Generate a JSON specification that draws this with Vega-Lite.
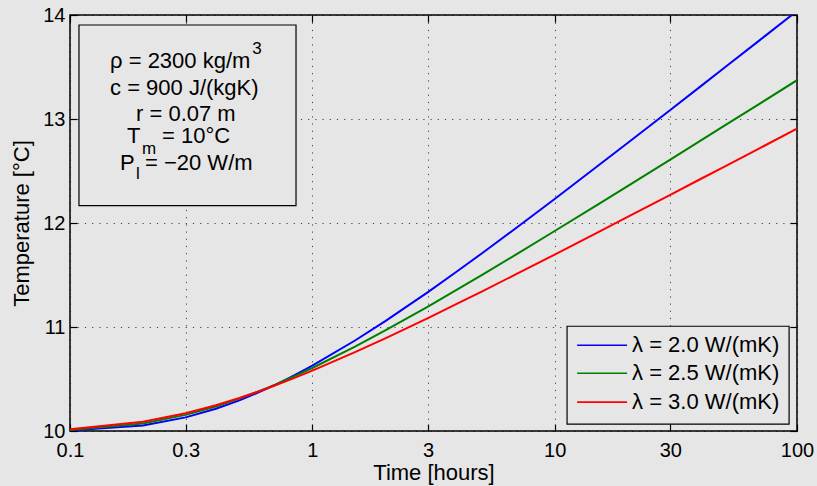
{
  "$schema": "https://vega.github.io/schema/vega-lite/v6.json",
  "width": 727,
  "height": 416,
  "autosize": "none",
  "padding": {"left": 70, "top": 15, "right": 20, "bottom": 55},
  "background": "#e6e6e6",
  "config": {
    "view": {"stroke": "black", "strokeWidth": 1.5, "fill": "#e6e6e6"},
    "font": "Liberation Sans",
    "axis": {
      "domain": false,
      "tickColor": "black",
      "tickSize": -7,
      "tickWidth": 1.2,
      "labelFont": "Liberation Sans",
      "labelFontSize": 20,
      "labelColor": "black",
      "labelOverlap": false,
      "labelFlush": false,
      "titleFont": "Liberation Sans",
      "titleFontSize": 22,
      "titleFontWeight": "normal",
      "titleColor": "black",
      "gridColor": "black",
      "gridDash": [1.2, 6],
      "gridWidth": 1,
      "gridOpacity": 0.7
    }
  },
  "datasets": {
    "curves": [
      {"t": 0.1, "T": 10.005, "k": "λ = 2.0 W/(mK)"},
      {"t": 0.2, "T": 10.054, "k": "λ = 2.0 W/(mK)"},
      {"t": 0.3, "T": 10.131, "k": "λ = 2.0 W/(mK)"},
      {"t": 0.4, "T": 10.214, "k": "λ = 2.0 W/(mK)"},
      {"t": 0.5, "T": 10.295, "k": "λ = 2.0 W/(mK)"},
      {"t": 0.6, "T": 10.371, "k": "λ = 2.0 W/(mK)"},
      {"t": 0.7, "T": 10.442, "k": "λ = 2.0 W/(mK)"},
      {"t": 0.8, "T": 10.509, "k": "λ = 2.0 W/(mK)"},
      {"t": 0.9, "T": 10.571, "k": "λ = 2.0 W/(mK)"},
      {"t": 1, "T": 10.629, "k": "λ = 2.0 W/(mK)"},
      {"t": 1.5, "T": 10.87, "k": "λ = 2.0 W/(mK)"},
      {"t": 2, "T": 11.057, "k": "λ = 2.0 W/(mK)"},
      {"t": 3, "T": 11.336, "k": "λ = 2.0 W/(mK)"},
      {"t": 4, "T": 11.543, "k": "λ = 2.0 W/(mK)"},
      {"t": 5, "T": 11.707, "k": "λ = 2.0 W/(mK)"},
      {"t": 7, "T": 11.959, "k": "λ = 2.0 W/(mK)"},
      {"t": 10, "T": 12.231, "k": "λ = 2.0 W/(mK)"},
      {"t": 15, "T": 12.545, "k": "λ = 2.0 W/(mK)"},
      {"t": 20, "T": 12.769, "k": "λ = 2.0 W/(mK)"},
      {"t": 30, "T": 13.087, "k": "λ = 2.0 W/(mK)"},
      {"t": 40, "T": 13.314, "k": "λ = 2.0 W/(mK)"},
      {"t": 50, "T": 13.49, "k": "λ = 2.0 W/(mK)"},
      {"t": 70, "T": 13.756, "k": "λ = 2.0 W/(mK)"},
      {"t": 100, "T": 14.039, "k": "λ = 2.0 W/(mK)"},
      {"t": 0.1, "T": 10.01, "k": "λ = 2.5 W/(mK)"},
      {"t": 0.2, "T": 10.073, "k": "λ = 2.5 W/(mK)"},
      {"t": 0.3, "T": 10.155, "k": "λ = 2.5 W/(mK)"},
      {"t": 0.4, "T": 10.236, "k": "λ = 2.5 W/(mK)"},
      {"t": 0.5, "T": 10.312, "k": "λ = 2.5 W/(mK)"},
      {"t": 0.6, "T": 10.381, "k": "λ = 2.5 W/(mK)"},
      {"t": 0.7, "T": 10.444, "k": "λ = 2.5 W/(mK)"},
      {"t": 0.8, "T": 10.503, "k": "λ = 2.5 W/(mK)"},
      {"t": 0.9, "T": 10.557, "k": "λ = 2.5 W/(mK)"},
      {"t": 1, "T": 10.606, "k": "λ = 2.5 W/(mK)"},
      {"t": 1.5, "T": 10.811, "k": "λ = 2.5 W/(mK)"},
      {"t": 2, "T": 10.967, "k": "λ = 2.5 W/(mK)"},
      {"t": 3, "T": 11.197, "k": "λ = 2.5 W/(mK)"},
      {"t": 4, "T": 11.366, "k": "λ = 2.5 W/(mK)"},
      {"t": 5, "T": 11.499, "k": "λ = 2.5 W/(mK)"},
      {"t": 7, "T": 11.703, "k": "λ = 2.5 W/(mK)"},
      {"t": 10, "T": 11.923, "k": "λ = 2.5 W/(mK)"},
      {"t": 15, "T": 12.175, "k": "λ = 2.5 W/(mK)"},
      {"t": 20, "T": 12.355, "k": "λ = 2.5 W/(mK)"},
      {"t": 30, "T": 12.61, "k": "λ = 2.5 W/(mK)"},
      {"t": 40, "T": 12.792, "k": "λ = 2.5 W/(mK)"},
      {"t": 50, "T": 12.933, "k": "λ = 2.5 W/(mK)"},
      {"t": 70, "T": 13.146, "k": "λ = 2.5 W/(mK)"},
      {"t": 100, "T": 13.373, "k": "λ = 2.5 W/(mK)"},
      {"t": 0.1, "T": 10.016, "k": "λ = 3.0 W/(mK)"},
      {"t": 0.2, "T": 10.088, "k": "λ = 3.0 W/(mK)"},
      {"t": 0.3, "T": 10.17, "k": "λ = 3.0 W/(mK)"},
      {"t": 0.4, "T": 10.247, "k": "λ = 3.0 W/(mK)"},
      {"t": 0.5, "T": 10.317, "k": "λ = 3.0 W/(mK)"},
      {"t": 0.6, "T": 10.38, "k": "λ = 3.0 W/(mK)"},
      {"t": 0.7, "T": 10.437, "k": "λ = 3.0 W/(mK)"},
      {"t": 0.8, "T": 10.489, "k": "λ = 3.0 W/(mK)"},
      {"t": 0.9, "T": 10.537, "k": "λ = 3.0 W/(mK)"},
      {"t": 1, "T": 10.58, "k": "λ = 3.0 W/(mK)"},
      {"t": 1.5, "T": 10.758, "k": "λ = 3.0 W/(mK)"},
      {"t": 2, "T": 10.891, "k": "λ = 3.0 W/(mK)"},
      {"t": 3, "T": 11.086, "k": "λ = 3.0 W/(mK)"},
      {"t": 4, "T": 11.229, "k": "λ = 3.0 W/(mK)"},
      {"t": 5, "T": 11.341, "k": "λ = 3.0 W/(mK)"},
      {"t": 7, "T": 11.513, "k": "λ = 3.0 W/(mK)"},
      {"t": 10, "T": 11.696, "k": "λ = 3.0 W/(mK)"},
      {"t": 15, "T": 11.907, "k": "λ = 3.0 W/(mK)"},
      {"t": 20, "T": 12.058, "k": "λ = 3.0 W/(mK)"},
      {"t": 30, "T": 12.271, "k": "λ = 3.0 W/(mK)"},
      {"t": 40, "T": 12.423, "k": "λ = 3.0 W/(mK)"},
      {"t": 50, "T": 12.54, "k": "λ = 3.0 W/(mK)"},
      {"t": 70, "T": 12.718, "k": "λ = 3.0 W/(mK)"},
      {"t": 100, "T": 12.907, "k": "λ = 3.0 W/(mK)"}
    ],
    "infobox": [{"x1": 0.1089, "x2": 0.8564, "y1": 13.904, "y2": 12.168}],
    "legendbox": [{"x1": 11.25, "x2": 92.76, "y1": 11.007, "y2": 10.067}],
    "maintext": [
      {"x": 0.1463, "y": 13.559, "text": "ρ = 2300 kg/m"},
      {"x": 0.1463, "y": 13.3, "text": "c = 900 J/(kgK)"},
      {"x": 0.1873, "y": 13.05, "text": "r = 0.07 m"},
      {"x": 0.1719, "y": 12.839, "text": "T"},
      {"x": 0.2398, "y": 12.839, "text": "= 10°C"},
      {"x": 0.1608, "y": 12.58, "text": "P"},
      {"x": 0.2039, "y": 12.58, "text": "= −20 W/m"}
    ],
    "smalltext": [
      {"x": 0.565, "y": 13.67, "text": "3"},
      {"x": 0.1983, "y": 12.71, "text": "m"},
      {"x": 0.1873, "y": 12.47, "text": "l"}
    ],
    "legendrows": [
      {"x1": 12.38, "x2": 19.9, "xt": 20.86, "y": 10.825, "k": "λ = 2.0 W/(mK)"},
      {"x1": 12.38, "x2": 19.9, "xt": 20.86, "y": 10.556, "k": "λ = 2.5 W/(mK)"},
      {"x1": 12.38, "x2": 19.9, "xt": 20.86, "y": 10.278, "k": "λ = 3.0 W/(mK)"}
    ]
  },
  "layer": [
    {
      "data": {"name": "curves"},
      "mark": {"type": "line", "opacity": 0},
      "encoding": {
        "x": {"field": "t", "type": "quantitative", "scale": {"type": "log", "domain": [0.1, 100], "nice": false},
              "axis": {"orient": "top", "labels": false, "grid": false, "title": null, "values": [0.1, 0.3, 1, 3, 10, 30, 100]}},
        "y": {"field": "T", "type": "quantitative", "scale": {"domain": [10, 14], "nice": false, "zero": false},
              "axis": {"orient": "right", "labels": false, "grid": false, "title": null, "values": [10, 11, 12, 13, 14]}},
        "detail": {"field": "k"}
      }
    },
    {
      "data": {"name": "curves"},
      "mark": {"type": "line", "strokeWidth": 2, "clip": true},
      "encoding": {
        "x": {"field": "t", "type": "quantitative", "scale": {"type": "log", "domain": [0.1, 100], "nice": false},
              "axis": {"orient": "bottom", "grid": true, "title": "Time [hours]", "values": [0.1, 0.3, 1, 3, 10, 30, 100], "labelPadding": 16, "titlePadding": 2}},
        "y": {"field": "T", "type": "quantitative", "scale": {"domain": [10, 14], "nice": false, "zero": false},
              "axis": {"orient": "left", "grid": true, "title": "Temperature [°C]", "values": [10, 11, 12, 13, 14], "labelPadding": 12, "titlePadding": 9}},
        "color": {"field": "k", "type": "nominal", "legend": null,
                  "scale": {"domain": ["λ = 2.0 W/(mK)", "λ = 2.5 W/(mK)", "λ = 3.0 W/(mK)"], "range": ["#0000ff", "#008000", "#ff0000"]}}
      }
    },
    {
      "data": {"name": "infobox"},
      "mark": {"type": "rect", "fill": "#e6e6e6", "stroke": "black", "strokeWidth": 1.2},
      "encoding": {
        "x": {"field": "x1", "type": "quantitative", "axis": null},
        "x2": {"field": "x2"},
        "y": {"field": "y1", "type": "quantitative", "axis": null},
        "y2": {"field": "y2"}
      }
    },
    {
      "data": {"name": "maintext"},
      "mark": {"type": "text", "align": "left", "baseline": "middle", "fontSize": 22, "font": "Liberation Sans", "color": "black"},
      "encoding": {
        "x": {"field": "x", "type": "quantitative", "axis": null},
        "y": {"field": "y", "type": "quantitative", "axis": null},
        "text": {"field": "text"}
      }
    },
    {
      "data": {"name": "smalltext"},
      "mark": {"type": "text", "align": "left", "baseline": "middle", "fontSize": 17, "font": "Liberation Sans", "color": "black"},
      "encoding": {
        "x": {"field": "x", "type": "quantitative", "axis": null},
        "y": {"field": "y", "type": "quantitative", "axis": null},
        "text": {"field": "text"}
      }
    },
    {
      "data": {"name": "legendbox"},
      "mark": {"type": "rect", "fill": "#e6e6e6", "stroke": "black", "strokeWidth": 1.2},
      "encoding": {
        "x": {"field": "x1", "type": "quantitative", "axis": null},
        "x2": {"field": "x2"},
        "y": {"field": "y1", "type": "quantitative", "axis": null},
        "y2": {"field": "y2"}
      }
    },
    {
      "data": {"name": "legendrows"},
      "mark": {"type": "rule", "strokeWidth": 1.6},
      "encoding": {
        "x": {"field": "x1", "type": "quantitative", "axis": null},
        "x2": {"field": "x2"},
        "y": {"field": "y", "type": "quantitative", "axis": null},
        "color": {"field": "k", "type": "nominal", "legend": null}
      }
    },
    {
      "data": {"name": "legendrows"},
      "mark": {"type": "text", "align": "left", "baseline": "middle", "fontSize": 22, "font": "Liberation Sans", "color": "black"},
      "encoding": {
        "x": {"field": "xt", "type": "quantitative", "axis": null},
        "y": {"field": "y", "type": "quantitative", "axis": null},
        "text": {"field": "k"}
      }
    }
  ],
  "resolve": {"axis": {"x": "independent", "y": "independent"}}
}
